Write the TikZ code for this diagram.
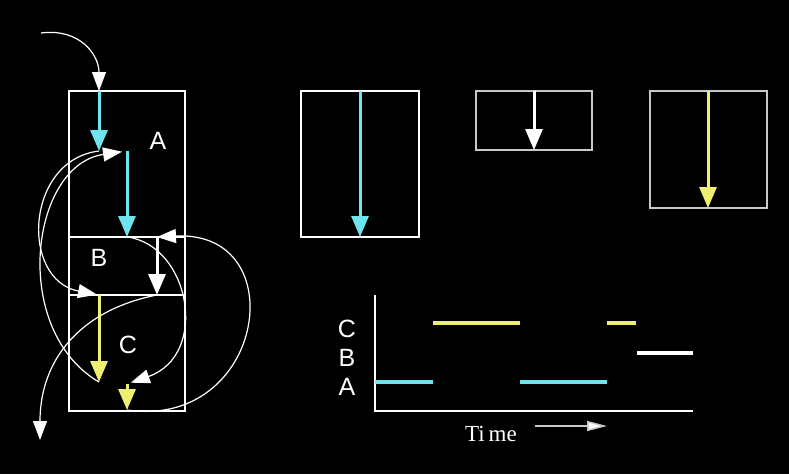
\documentclass[tikz,border=0pt]{standalone}
\usepackage{fontspec}
\setmainfont{Liberation Sans}
\newfontfamily\timefont{Liberation Serif}
\usepackage{tikz}
\usetikzlibrary{arrows.meta}

\definecolor{stackcyan}{RGB}{110,228,238}
\definecolor{stackyellow}{RGB}{240,238,110}
\definecolor{boxgray}{RGB}{200,200,200}

\tikzset{
  frame/.style={draw=white, line width=2pt},
  thinframe/.style={draw=boxgray, line width=1.6pt},
  run/.style={line width=3pt, -{Triangle[length=21pt 0 0,width=17pt 0 0]}},
  jump/.style={white, line width=1.2pt, -{Triangle[length=19pt 0 0,width=14pt 0 0]}},
  bar/.style={line width=3.5pt},
  letter/.style={white, font=\fontsize{25}{25}\selectfont},
}

\begin{document}
\begin{tikzpicture}[x=1pt, y=-1pt]
% background
\fill[black] (0,0) rectangle (789,474);
\useasboundingbox (0,0) rectangle (789,474);

% stack of frames
\draw[frame] (69,91) rectangle (185,411);
\draw[frame] (69,237) -- (185,237);
\draw[frame] (69,295) -- (185,295);
\node[letter] (labA) at (158,141) {A};
\node[letter] (labB) at (99,258) {B};
\node[letter] (labC) at (128,345) {C};

% end points
\coordinate (inS) at (41,33);
\coordinate (a1t) at (99,91);
\coordinate (a1b) at (99,151);
\coordinate (a2t) at (127,151);
\coordinate (a2b) at (127,237);
\coordinate (bt) at (157,237);
\coordinate (bb) at (157,295);
\coordinate (c1t) at (99,295);
\coordinate (c1b) at (99,382);
\coordinate (c2t) at (127,384);
\coordinate (c2b) at (127,410);
\coordinate (outE) at (40,440);

% straight runs
\draw[run, stackcyan] (a1t) -- (a1b);
\draw[run, stackcyan] (a2t) -- (a2b);
\draw[run, white] (bt) -- (bb);
\draw[run, stackyellow] (c1t) -- (c1b);
\draw[run, stackyellow] (c2t) -- (c2b);

% jumps
\draw[jump] (inS) .. controls (80,28) and (99,55) .. (a1t);
\draw[jump, shorten >=2pt] (a1b) .. controls (25,160) and (20,280) .. (c1t);
\draw[jump, shorten >=5pt] (c1b) .. controls (10,330) and (30,165) .. (a2t);
\draw[jump, shorten >=4pt] (a2b) .. controls (190,245) and (210,355) .. (c2t);
\draw[jump] (c2b) .. controls (265,430) and (295,230) .. (bt);
\draw[jump] (bb) .. controls (80,310) and (40,360) .. (outE);

% single frames
\draw[frame] (301,91) rectangle (419,237);
\draw[run, stackcyan] (360,91) -- (360,237);
\draw[thinframe] (476,91) rectangle (592,150);
\draw[run, white] (534,91) -- (534,150);
\draw[thinframe] (650,91) rectangle (767,208);
\draw[run, stackyellow] (708,91) -- (708,208);

% time chart
\draw[white, line width=2pt] (375,295) -- (375,411) -- (693,411);
\node[letter] (rowC) at (347,329) {C};
\node[letter] (rowB) at (347,358) {B};
\node[letter] (rowA) at (347,387) {A};
\draw[bar, stackyellow] (433,323) -- (520,323);
\draw[bar, stackyellow] (607,323) -- (636,323);
\draw[bar, white] (637,353) -- (693,353);
\draw[bar, stackcyan] (375,382) -- (433,382);
\draw[bar, stackcyan] (520,382) -- (607,382);
\node[white, font=\timefont\fontsize{23}{23}\selectfont] (timeLab) at (491,434) {Ti\,me};
\coordinate (tS) at (535,426);
\coordinate (tE) at (607,426);
\draw[boxgray, line width=1.5pt, -{Triangle[length=20pt 0 0,width=10pt 0 0,fill=white]}] (tS) -- (tE);
\end{tikzpicture}
\end{document}
